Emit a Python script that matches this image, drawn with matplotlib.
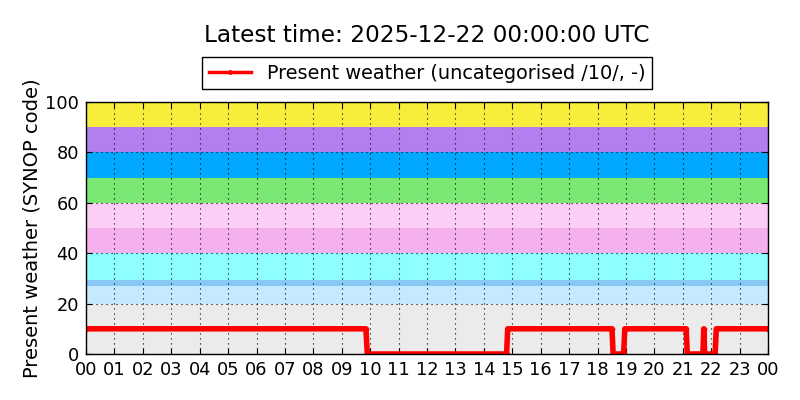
import matplotlib
matplotlib.use('Agg')
import matplotlib.pyplot as plt

# present weather code, change points only (hours since 00 UTC)
hours = [0.0, 9.85, 9.90, 14.80, 14.84, 18.51, 18.55, 18.92, 18.96,
         21.12, 21.16, 21.71, 21.74, 21.77, 22.14, 22.18, 24.0]
codes = [10, 10, 0, 0, 10, 10, 0, 0, 10,
         10, 0, 0, 10, 0, 0, 10, 10]

# SYNOP code background bands (lower, upper, colour)
band_lo = [0, 20, 27, 29.5, 40, 50, 60, 70, 80, 90]
band_hi = [20, 27, 29.5, 40, 50, 60, 70, 80, 90, 100]
band_col = ['#ebebeb', '#c5eaff', '#88c8f4', '#8dffff', '#f5b0ee',
            '#fccef6', '#7ae872', '#00a8ff', '#b37eed', '#f6ee3b']

hour_labels = ['%02d' % h for h in range(24)] + ['00']

fig = plt.figure(figsize=(8, 4), dpi=100)
ax = fig.add_axes([0.1075, 0.115, 0.8525, 0.63])

for lo, hi, c in zip(band_lo, band_hi, band_col):
    ax.axhspan(lo, hi, color=c, lw=0, zorder=0)

ax.plot(hours, codes, color='#ff0000', lw=4, marker='.', markersize=6,
        label='Present weather (uncategorised /10/, -)', zorder=3)

ax.set_xlim(0, 24)
ax.set_ylim(0, 100)
ax.set_xticks(range(25))
ax.set_xticklabels(hour_labels)
ax.set_yticks(range(0, 101, 20))
ax.tick_params(direction='in', top=True, right=True, labelsize=12.8, length=4)
ax.tick_params(axis='x', pad=5)
ax.tick_params(axis='y', pad=5)
ax.grid(True, color='black', linestyle=(0, (1, 3.5)), linewidth=0.8, zorder=1)
ax.set_axisbelow(False)
for s in ax.spines.values():
    s.set_linewidth(1.0)
    s.set_zorder(4)

ax.set_ylabel('Present weather (SYNOP code)', fontsize=14, labelpad=3)

leg = ax.legend(loc='lower center', bbox_to_anchor=(0.5, 1.012), fontsize=13.9,
                fancybox=False, framealpha=1, edgecolor='black',
                handlelength=2.2, borderpad=0.35)
leg.get_frame().set_linewidth(1.0)
leg.legend_handles[0].set_linewidth(2.5)
leg.legend_handles[0].set_markersize(5)

ax.set_title('Latest time: 2025-12-22 00:00:00 UTC', fontsize=16.7, pad=43)

plt.savefig('out.png', dpi=100)
